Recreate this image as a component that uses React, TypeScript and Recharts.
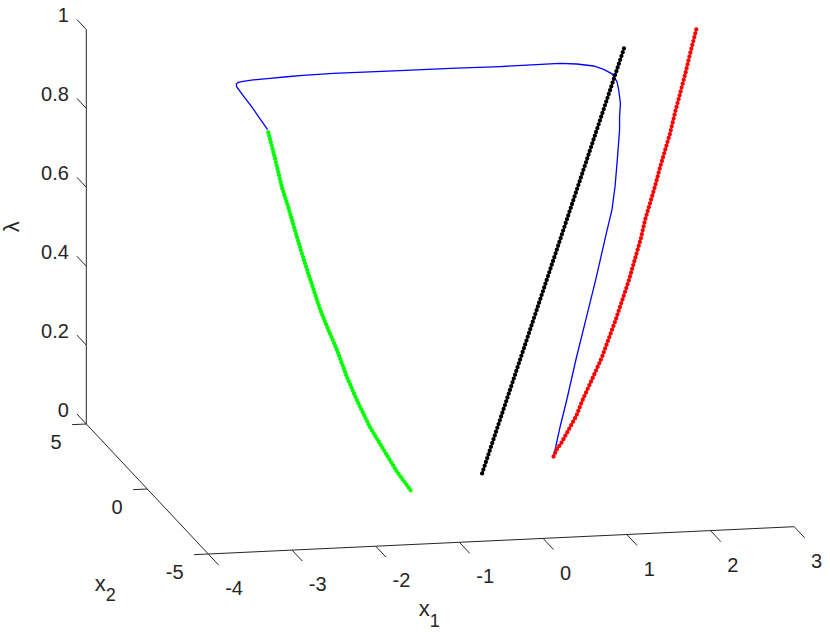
import { ComposedChart, Line, Scatter, XAxis, YAxis } from 'recharts';

// axis ticks
const x1Ticks = [-4, -3, -2, -1, 0, 1, 2, 3];
const x1TickLabels = ['-4', '-3', '-2', '-1', '0', '1', '2', '3'];
const x2Ticks = [-5, 0, 5];
const x2TickLabels = ['-5', '0', '5'];
const lambdaTicks = [0, 0.2, 0.4, 0.6, 0.8, 1];
const lambdaTickLabels = ['0', '0.2', '0.4', '0.6', '0.8', '1'];

// solution branches (these lie on x1 = x2)
const greenLambda = [0, 0.055, 0.12, 0.185, 0.26, 0.325, 0.4, 0.465, 0.515, 0.61, 0.665, 0.73, 0.79, 0.845, 0.925, 1.0];
const greenX = [-1.0, -1.19, -1.38, -1.57, -1.75, -1.89, -2.03, -2.17, -2.27, -2.43, -2.52, -2.62, -2.71, -2.8, -2.9, -3.0];

const blackLambda = [0, 0.5, 1];
const blackX = [0, 1, 2];

const redLambda = [0, 0.015, 0.03, 0.05, 0.07, 0.09, 0.12, 0.22, 0.31, 0.4, 0.5, 0.545, 0.585, 0.625, 0.67, 0.71, 0.75, 0.8, 0.845, 0.89, 0.94, 1.0];
const redX = [1.0, 1.04, 1.11, 1.18, 1.25, 1.32, 1.39, 1.67, 1.87, 2.05, 2.22, 2.28, 2.35, 2.42, 2.49, 2.56, 2.63, 2.7, 2.77, 2.84, 2.91, 3.0];

// continuation path
const blueX1 = [-3, -2.96, -2.92, -2.89, -2.86, -2.83, -2.785, -2.72, -2.59, -2.38, -2.17, -1.97, -1.6, -0.81, -0.21, 0.38, 1.1, 1.3, 1.5, 1.62, 1.72, 1.78, 1.8, 1.82, 1.81, 1.81, 1.78, 1.75, 1.71, 1.64, 1.51, 1.39, 1.27, 1.16, 1.08, 1.0];
const blueX2 = [-3, -2.08, -1.14, -0.27, 0.5, 0.73, 0.88, 0.93, 1.0, 1.06, 1.12, 1.17, 1.21, 1.19, 1.17, 1.14, 1.17, 1.15, 1.15, 1.15, 1.15, 1.15, 1.15, 1.15, 1.15, 1.15, 1.13, 1.11, 1.09, 1.07, 1.05, 1.04, 1.03, 1.02, 1.01, 1.0];
const blueLambda = [1.0, 0.998, 0.996, 0.994, 0.992, 0.991, 0.99, 0.99, 0.99, 0.99, 0.99, 0.99, 0.99, 0.99, 0.99, 0.99, 0.99, 0.987, 0.98, 0.97, 0.958, 0.937, 0.916, 0.882, 0.848, 0.815, 0.74, 0.673, 0.615, 0.557, 0.441, 0.341, 0.241, 0.141, 0.075, 0];

const W = 830;
const H = 635;
const FONT = 'Liberation Sans, Arial, Helvetica, sans-serif';
const INK = '#262626';
const TICK_FS = 20;

// orthographic camera (screen units per data unit), origin at x1=-4, x2=-5, lambda=0
const VIEW = { ox: 208.3, oy: 554, x1: [83.7, -3.9], x2: [-12.2, -13.0], lam: -394.5 };

function project(x1: number, x2: number, lam: number) {
  const a = x1 + 4;
  const b = x2 + 5;
  return {
    px: VIEW.ox + a * VIEW.x1[0] + b * VIEW.x2[0],
    py: VIEW.oy + a * VIEW.x1[1] + b * VIEW.x2[1] + lam * VIEW.lam,
  };
}

type P3 = [number, number, number];
const seg = (p: P3, q: P3) => [project(...p), project(...q)];

const axisLines = [
  seg([-4, -5, 0], [3, -5, 0]),
  seg([-4, 5, 0], [-4, -5, 0]),
  seg([-4, 5, 0], [-4, 5, 1]),
];

const tickSegs = [
  ...x1Ticks.map((t) => seg([t, -5, 0], [t, -5.85, 0])),
  ...x2Ticks.map((t) => seg([-4, t, 0], [-4.17, t, 0])),
  ...lambdaTicks.map((t) => seg([-4, 5, t], [-4, 5.77, t])),
];

const x1LabelData = x1Ticks.map((t, i) => ({ ...project(t, -5.85, 0), label: x1TickLabels[i] }));
const x2LabelData = x2Ticks.map((t, i) => ({ ...project(-4.17, t, 0), label: x2TickLabels[i] }));
const lambdaLabelData = lambdaTicks.map((t, i) => ({ ...project(-4, 5.77, t), label: lambdaTickLabels[i] }));

const greenData = greenX.map((x, i) => project(x, x, greenLambda[i]));
const blackData = blackX.map((x, i) => project(x, x, blackLambda[i]));
const redData = redX.map((x, i) => project(x, x, redLambda[i]));
const blueData = blueX1.map((x, i) => project(x, blueX2[i], blueLambda[i]));

const tickText = (dx: number, dy: number, anchor: 'start' | 'middle' | 'end') => (props: any) => (
  <text
    x={props.cx + dx}
    y={props.cy + dy + 0.355 * TICK_FS}
    textAnchor={anchor}
    fontFamily={FONT}
    fontSize={TICK_FS}
    fill={INK}
  >
    {props.payload.label}
  </text>
);

const subTitle = (main: string, sub: string, dx: number, dy: number, subDy: number) => (props: any) => (
  <text x={props.cx + dx} y={props.cy + dy} fontFamily={FONT} fontSize={22} fill={INK}>
    <tspan>{main}</tspan>
    <tspan dy={subDy} fontSize={18}>{sub}</tspan>
  </text>
);

const lambdaTitle = (props: any) => {
  const x = props.cx - 74.6;
  const y = props.cy;
  return (
    <text
      x={x}
      y={y}
      transform={`rotate(-90 ${x} ${y})`}
      textAnchor="middle"
      dominantBaseline="central"
      fontFamily={FONT}
      fontSize={22}
      fill={INK}
    >
      λ
    </text>
  );
};

const dotted = { strokeWidth: 4.3, strokeLinecap: 'round' as const };

export default function App() {
  return (
    <div style={{ position: 'absolute', left: 0, top: 0, width: W, height: H, background: '#fff' }}>
      <ComposedChart width={W} height={H} margin={{ top: 0, right: 0, bottom: 0, left: 0 }}>
        <XAxis type="number" dataKey="px" domain={[0, W]} allowDataOverflow hide />
        <YAxis type="number" dataKey="py" domain={[0, H]} allowDataOverflow reversed hide />

        {axisLines.map((d, i) => (
          <Line key={`ax${i}`} data={d} dataKey="py" type="linear" stroke={INK} strokeWidth={1}
            dot={false} activeDot={false} isAnimationActive={false} />
        ))}
        {tickSegs.map((d, i) => (
          <Line key={`tk${i}`} data={d} dataKey="py" type="linear" stroke={INK} strokeWidth={1}
            dot={false} activeDot={false} isAnimationActive={false} />
        ))}

        <Scatter data={x1LabelData} dataKey="py" shape={tickText(6.5, 23, 'start')} isAnimationActive={false} />
        <Scatter data={x2LabelData} dataKey="py" shape={tickText(-10.5, 17, 'end')} isAnimationActive={false} />
        <Scatter data={lambdaLabelData} dataKey="py" shape={tickText(-8, -4.5, 'end')} isAnimationActive={false} />

        <Scatter data={[project(-0.5, -5, 0)]} dataKey="py" shape={subTitle('x', '1', -82.5, 75.2, 11.3)} isAnimationActive={false} />
        <Scatter data={[project(-4, 0, 0)]} dataKey="py" shape={subTitle('x', '2', -52.5, 101.5, 10.6)} isAnimationActive={false} />
        <Scatter data={[project(-4, 5, 0.5)]} dataKey="py" shape={lambdaTitle} isAnimationActive={false} />

        <Line data={blueData} dataKey="py" type="linear" stroke="#0000ff" strokeWidth={1.3}
          dot={false} activeDot={false} isAnimationActive={false} />
        <Line data={greenData} dataKey="py" type="linear" stroke="#00ff00" {...dotted} strokeDasharray="0 3.4"
          dot={false} activeDot={false} isAnimationActive={false} />
        <Line data={blackData} dataKey="py" type="linear" stroke="#000000" {...dotted} strokeDasharray="0 4"
          dot={false} activeDot={false} isAnimationActive={false} />
        <Line data={redData} dataKey="py" type="linear" stroke="#ff0000" {...dotted} strokeDasharray="0 4"
          dot={false} activeDot={false} isAnimationActive={false} />
      </ComposedChart>
    </div>
  );
}
